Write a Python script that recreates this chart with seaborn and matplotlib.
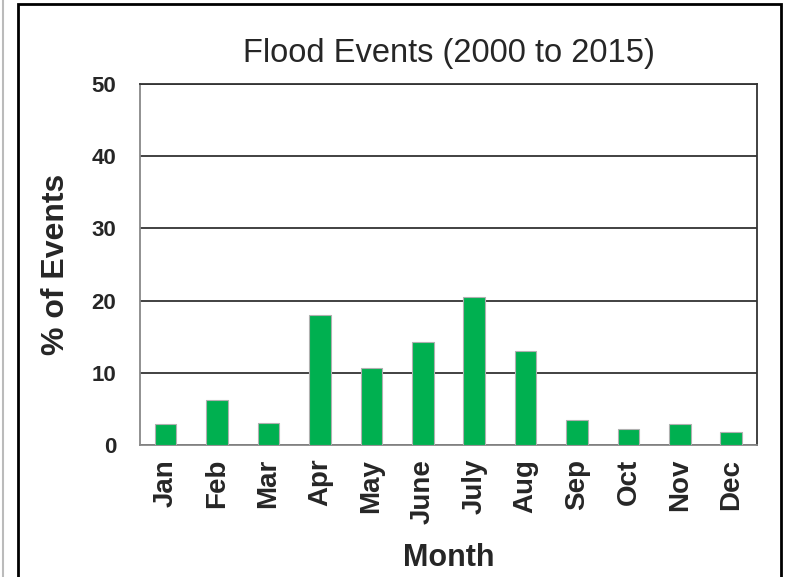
import matplotlib
matplotlib.use("Agg")
import matplotlib.pyplot as plt
import seaborn as sns
import pandas as pd
import numpy as np
from matplotlib.patches import Rectangle

months = ["Jan", "Feb", "Mar", "Apr", "May", "June", "July", "Aug", "Sep", "Oct", "Nov", "Dec"]
pct_events = [2.9, 6.2, 3.1, 18.0, 10.6, 14.2, 20.5, 13.0, 3.4, 2.2, 2.9, 1.8]
y_ticks = [0, 10, 20, 30, 40, 50]

df = pd.DataFrame({"Month": months, "Pct": pct_events})

sns.set_style("white")
plt.rcParams["font.family"] = ["Liberation Sans", "DejaVu Sans"]

fig = plt.figure(figsize=(7.9, 5.77), dpi=100)
ax = fig.add_axes([0.1772, 0.2288, 0.7810, 0.6256])

sns.barplot(data=df, x="Month", y="Pct", color="#00b050", width=0.42,
            saturation=1, edgecolor="#b0b0b0", linewidth=0.8, ax=ax, zorder=3)

ax.set_ylim(0, 50)
ax.set_xlim(-0.5, len(months) - 0.5)
ax.set_yticks(y_ticks)
ax.set_yticklabels([str(v) for v in y_ticks], fontsize=16, fontweight="bold")
ax.set_xticks(range(len(months)))
ax.set_xticklabels(months, rotation=90, fontsize=20, fontweight="bold")
ax.set_xticks(np.arange(-0.5, len(months)), minor=True)
ax.tick_params(axis="x", which="major", length=0, pad=10)
ax.tick_params(axis="x", which="minor", length=5, width=1.2, color="#888888", direction="out")
ax.tick_params(axis="y", which="major", length=7, width=1.2, color="#888888", direction="out", pad=10)

ax.yaxis.grid(True, color="#333333", linewidth=1.3, zorder=0)
ax.set_axisbelow(True)

for side in ("left", "bottom"):
    ax.spines[side].set_color("#888888")
    ax.spines[side].set_linewidth(1.3)
for side in ("right", "top"):
    ax.spines[side].set_color("#333333")
    ax.spines[side].set_linewidth(1.3)

ax.set_title("Flood Events (2000 to 2015)", fontsize=23.5, pad=16)
ax.set_xlabel("Month", fontsize=22, fontweight="bold", labelpad=14)
ax.set_ylabel("% of Events", fontsize=23, fontweight="bold", labelpad=15)

# chart frame
fig.patches.append(Rectangle((18 / 790, -0.05), (781 - 18) / 790, 1 - 4 / 577 + 0.05,
                             transform=fig.transFigure, fill=False,
                             edgecolor="black", linewidth=2))
fig.lines.append(plt.Line2D([3 / 790, 3 / 790], [0, 1], transform=fig.transFigure,
                            color="#bbbbbb", linewidth=1.5))

fig.savefig("out.png", dpi=100)
